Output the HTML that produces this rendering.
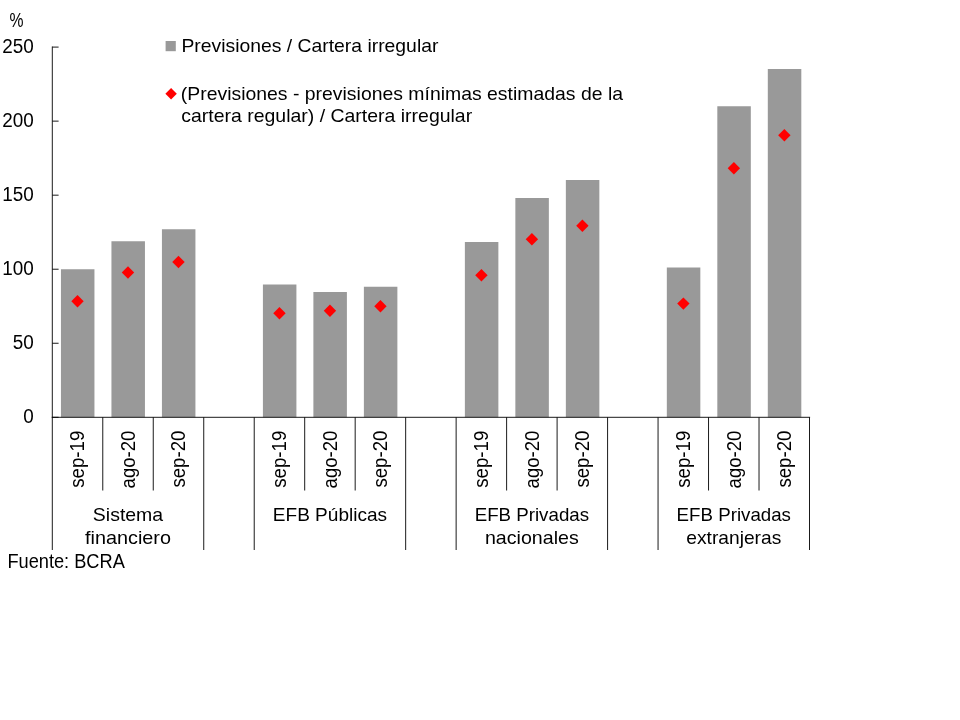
<!DOCTYPE html>
<html lang="es"><head><meta charset="utf-8"><title>Previsiones / Cartera irregular</title>
<style>html,body{margin:0;padding:0;background:#fff;}body{width:960px;height:720px;overflow:hidden;}svg{display:block;}text{font-family:"Liberation Sans",sans-serif;font-size:18.95px;fill:#000;}text.n{font-size:19.4px;}</style></head><body>
<svg width="960" height="720" viewBox="0 0 960 720">
<rect x="0" y="0" width="960" height="720" fill="#ffffff"/>
<g fill="#999999">
<rect x="60.95" y="269.25" width="33.50" height="148.05"/>
<rect x="111.44" y="241.25" width="33.50" height="176.05"/>
<rect x="161.93" y="229.25" width="33.50" height="188.05"/>
<rect x="262.91" y="284.50" width="33.50" height="132.80"/>
<rect x="313.39" y="292.00" width="33.50" height="125.30"/>
<rect x="363.88" y="286.75" width="33.50" height="130.55"/>
<rect x="464.87" y="242.00" width="33.50" height="175.30"/>
<rect x="515.36" y="198.00" width="33.50" height="219.30"/>
<rect x="565.85" y="180.00" width="33.50" height="237.30"/>
<rect x="666.83" y="267.50" width="33.50" height="149.80"/>
<rect x="717.32" y="106.25" width="33.50" height="311.05"/>
<rect x="767.81" y="69.00" width="33.50" height="348.30"/>
</g>
<g stroke="#000" stroke-width="0.9" fill="none">
<path d="M52.30 46.50 V550.00"/>
<path d="M51.70 417.30 H810.10"/>
<path d="M52.30 417.30 H58.60"/>
<path d="M52.30 343.26 H58.60"/>
<path d="M52.30 269.22 H58.60"/>
<path d="M52.30 195.18 H58.60"/>
<path d="M52.30 121.14 H58.60"/>
<path d="M52.30 47.10 H58.60"/>
<path d="M102.78 417.30 V490.50"/>
<path d="M153.26 417.30 V490.50"/>
<path d="M203.74 417.30 V550.00"/>
<path d="M254.22 417.30 V550.00"/>
<path d="M304.70 417.30 V490.50"/>
<path d="M355.18 417.30 V490.50"/>
<path d="M405.66 417.30 V550.00"/>
<path d="M456.14 417.30 V550.00"/>
<path d="M506.62 417.30 V490.50"/>
<path d="M557.10 417.30 V490.50"/>
<path d="M607.58 417.30 V550.00"/>
<path d="M658.06 417.30 V550.00"/>
<path d="M708.54 417.30 V490.50"/>
<path d="M759.02 417.30 V490.50"/>
<path d="M809.50 417.30 V550.00"/>
</g>
<g fill="#ff0000">
<path d="M77.50 295.05 l6.20 6.20 l-6.20 6.20 l-6.20 -6.20 z"/>
<path d="M127.98 266.30 l6.20 6.20 l-6.20 6.20 l-6.20 -6.20 z"/>
<path d="M178.48 255.80 l6.20 6.20 l-6.20 6.20 l-6.20 -6.20 z"/>
<path d="M279.46 307.05 l6.20 6.20 l-6.20 6.20 l-6.20 -6.20 z"/>
<path d="M329.94 304.55 l6.20 6.20 l-6.20 6.20 l-6.20 -6.20 z"/>
<path d="M380.44 300.05 l6.20 6.20 l-6.20 6.20 l-6.20 -6.20 z"/>
<path d="M481.42 269.05 l6.20 6.20 l-6.20 6.20 l-6.20 -6.20 z"/>
<path d="M531.90 233.05 l6.20 6.20 l-6.20 6.20 l-6.20 -6.20 z"/>
<path d="M582.39 219.55 l6.20 6.20 l-6.20 6.20 l-6.20 -6.20 z"/>
<path d="M683.38 297.40 l6.20 6.20 l-6.20 6.20 l-6.20 -6.20 z"/>
<path d="M733.87 162.05 l6.20 6.20 l-6.20 6.20 l-6.20 -6.20 z"/>
<path d="M784.36 129.05 l6.20 6.20 l-6.20 6.20 l-6.20 -6.20 z"/>
</g>
<text class="n" x="33.7" y="422.80" text-anchor="end" textLength="10.5" lengthAdjust="spacingAndGlyphs">0</text>
<text class="n" x="33.7" y="348.76" text-anchor="end" textLength="21.0" lengthAdjust="spacingAndGlyphs">50</text>
<text class="n" x="33.7" y="274.72" text-anchor="end" textLength="31.5" lengthAdjust="spacingAndGlyphs">100</text>
<text class="n" x="33.7" y="200.68" text-anchor="end" textLength="31.5" lengthAdjust="spacingAndGlyphs">150</text>
<text class="n" x="33.7" y="126.64" text-anchor="end" textLength="31.5" lengthAdjust="spacingAndGlyphs">200</text>
<text class="n" x="33.7" y="52.60" text-anchor="end" textLength="31.5" lengthAdjust="spacingAndGlyphs">250</text>
<text class="n" x="9.5" y="27" textLength="14" lengthAdjust="spacingAndGlyphs">%</text>
<rect x="165.6" y="41" width="10.2" height="10.2" fill="#999999"/>
<path d="M171.1 88 l5.7 5.75 l-5.7 5.75 l-5.7 -5.75 z" fill="#ff0000"/>
<text x="181.4" y="51.9" textLength="257" lengthAdjust="spacingAndGlyphs">Previsiones / Cartera irregular</text>
<text x="180.8" y="99.5" textLength="442.2" lengthAdjust="spacingAndGlyphs">(Previsiones - previsiones mínimas estimadas de la</text>
<text x="181.2" y="122" textLength="291" lengthAdjust="spacingAndGlyphs">cartera regular) / Cartera irregular</text>
<text class="n" transform="translate(84.44 430.6) rotate(-90)" text-anchor="end" textLength="57.2" lengthAdjust="spacingAndGlyphs">sep-19</text>
<text class="n" transform="translate(134.92 430.6) rotate(-90)" text-anchor="end" textLength="57.8" lengthAdjust="spacingAndGlyphs">ago-20</text>
<text class="n" transform="translate(185.40 430.6) rotate(-90)" text-anchor="end" textLength="57.0" lengthAdjust="spacingAndGlyphs">sep-20</text>
<text class="n" transform="translate(286.36 430.6) rotate(-90)" text-anchor="end" textLength="57.2" lengthAdjust="spacingAndGlyphs">sep-19</text>
<text class="n" transform="translate(336.84 430.6) rotate(-90)" text-anchor="end" textLength="57.8" lengthAdjust="spacingAndGlyphs">ago-20</text>
<text class="n" transform="translate(387.32 430.6) rotate(-90)" text-anchor="end" textLength="57.0" lengthAdjust="spacingAndGlyphs">sep-20</text>
<text class="n" transform="translate(488.28 430.6) rotate(-90)" text-anchor="end" textLength="57.2" lengthAdjust="spacingAndGlyphs">sep-19</text>
<text class="n" transform="translate(538.76 430.6) rotate(-90)" text-anchor="end" textLength="57.8" lengthAdjust="spacingAndGlyphs">ago-20</text>
<text class="n" transform="translate(589.24 430.6) rotate(-90)" text-anchor="end" textLength="57.0" lengthAdjust="spacingAndGlyphs">sep-20</text>
<text class="n" transform="translate(690.20 430.6) rotate(-90)" text-anchor="end" textLength="57.2" lengthAdjust="spacingAndGlyphs">sep-19</text>
<text class="n" transform="translate(740.68 430.6) rotate(-90)" text-anchor="end" textLength="57.8" lengthAdjust="spacingAndGlyphs">ago-20</text>
<text class="n" transform="translate(791.16 430.6) rotate(-90)" text-anchor="end" textLength="57.0" lengthAdjust="spacingAndGlyphs">sep-20</text>
<text x="128.02" y="520.90" text-anchor="middle" textLength="70.3" lengthAdjust="spacingAndGlyphs">Sistema</text>
<text x="128.02" y="543.80" text-anchor="middle" textLength="86.0" lengthAdjust="spacingAndGlyphs">financiero</text>
<text x="329.94" y="520.90" text-anchor="middle" textLength="114.2" lengthAdjust="spacingAndGlyphs">EFB Públicas</text>
<text x="531.86" y="520.90" text-anchor="middle" textLength="114.4" lengthAdjust="spacingAndGlyphs">EFB Privadas</text>
<text x="531.86" y="543.80" text-anchor="middle" textLength="93.8" lengthAdjust="spacingAndGlyphs">nacionales</text>
<text x="733.78" y="520.90" text-anchor="middle" textLength="114.4" lengthAdjust="spacingAndGlyphs">EFB Privadas</text>
<text x="733.78" y="543.80" text-anchor="middle" textLength="95.0" lengthAdjust="spacingAndGlyphs">extranjeras</text>
<text class="n" x="7.4" y="567.7" textLength="117.4" lengthAdjust="spacingAndGlyphs">Fuente: BCRA</text>
</svg></body></html>
